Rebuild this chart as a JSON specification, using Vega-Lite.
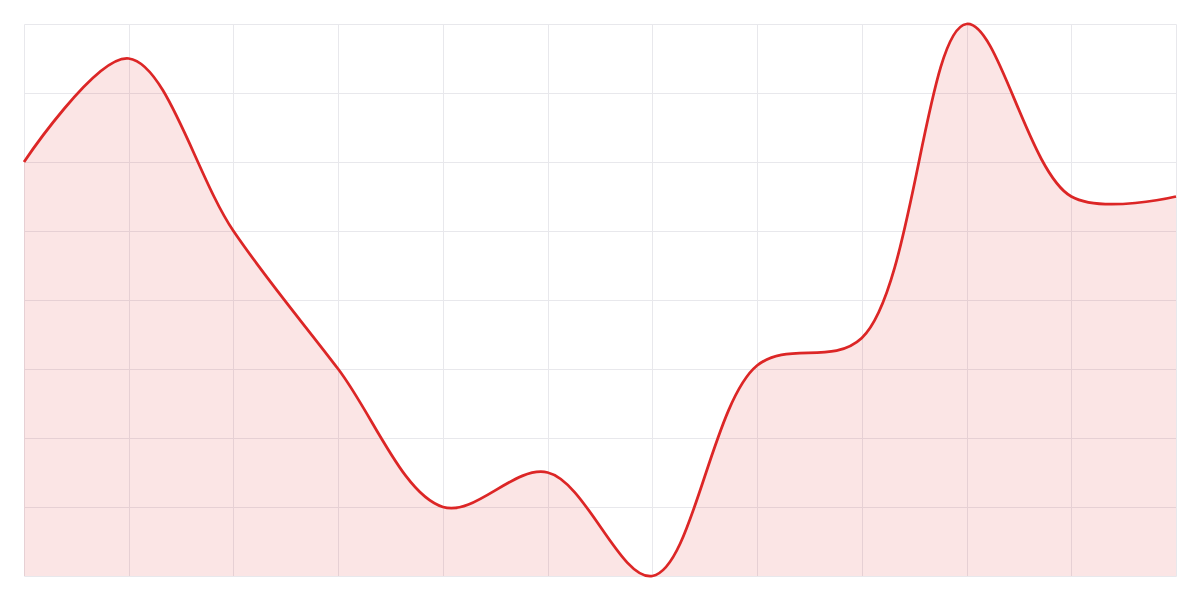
{
  "$schema": "https://vega.github.io/schema/vega-lite/v6.json",
  "width": 1152,
  "height": 552,
  "padding": 24,
  "autosize": {"type": "none"},
  "background": "white",
  "config": {
    "view": {"stroke": null},
    "axis": {"labels": false, "ticks": false, "domain": false, "title": null, "gridColor": "#e8e8ec", "gridWidth": 1}
  },
  "data": {
    "values": [
      {"step": 0, "value": 60},
      {"step": 1, "value": 75},
      {"step": 2, "value": 50},
      {"step": 3, "value": 30},
      {"step": 4, "value": 10},
      {"step": 5, "value": 15},
      {"step": 6, "value": 0},
      {"step": 7, "value": 30.5},
      {"step": 8, "value": 34.5},
      {"step": 9, "value": 80},
      {"step": 10, "value": 55},
      {"step": 11, "value": 55}
    ]
  },
  "encoding": {
    "x": {
      "field": "step",
      "type": "quantitative",
      "scale": {"domain": [0, 11], "nice": false},
      "axis": {"values": [0, 1, 2, 3, 4, 5, 6, 7, 8, 9, 10, 11]}
    },
    "y": {
      "field": "value",
      "type": "quantitative",
      "scale": {"domain": [0, 80], "nice": false},
      "axis": {"values": [0, 10, 20, 30, 40, 50, 60, 70, 80]}
    }
  },
  "layer": [
    {
      "mark": {"type": "area", "interpolate": "catmull-rom", "color": "#dc2626", "opacity": 0.12}
    },
    {
      "mark": {"type": "line", "interpolate": "catmull-rom", "color": "#dc2626", "strokeWidth": 2.75}
    }
  ]
}
